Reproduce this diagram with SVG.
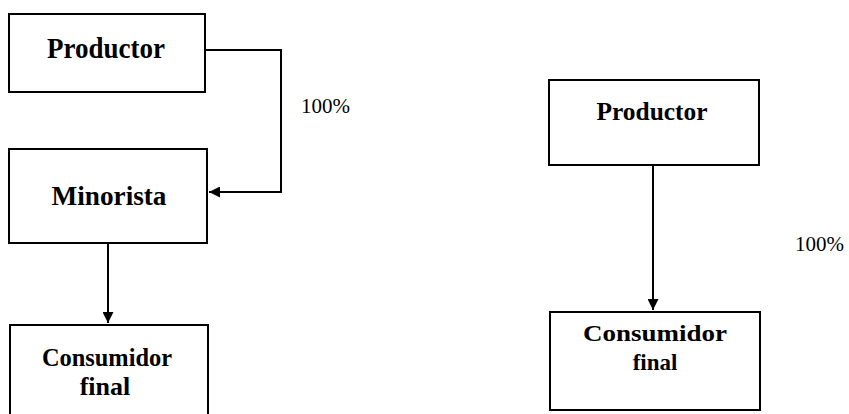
<svg xmlns="http://www.w3.org/2000/svg" width="849" height="414" viewBox="0 0 849 414">
<style>
.box{fill:#fff;stroke:#000;stroke-width:2}
.t{font-family:'Liberation Serif','Times New Roman',serif;font-weight:bold;fill:#000;text-anchor:middle}
.p{font-family:'Liberation Serif','Times New Roman',serif;fill:#000;font-size:21px}
.c{fill:none;stroke:#000;stroke-width:2}
</style>
<defs>
<marker id="ah" viewBox="0 0 10 10" refX="10" refY="5" markerWidth="5.5" markerHeight="5.5" orient="auto" markerUnits="strokeWidth">
<path d="M0,0 L10,5 L0,10 Z" fill="#000"/>
</marker>
</defs>
<rect width="849" height="414" fill="#fff"/>
<g id="connectors">
<path class="c" d="M205,50 H281 V192 H209" marker-end="url(#ah)"/>
<path class="c" d="M108,243 V323" marker-end="url(#ah)"/>
<path class="c" d="M653,165 V310" marker-end="url(#ah)"/>
</g>
<g id="productor1">
<rect class="box" x="9" y="14" width="196" height="78"/>
<text class="t" x="106" y="58" font-size="29" textLength="118" lengthAdjust="spacingAndGlyphs">Productor</text>
</g>
<g id="minorista">
<rect class="box" x="9" y="149" width="198" height="94"/>
<text class="t" x="109" y="205" font-size="28" textLength="115" lengthAdjust="spacingAndGlyphs">Minorista</text>
</g>
<g id="consumidor1">
<rect class="box" x="10" y="325" width="198" height="100"/>
<text class="t" x="107" y="366" font-size="26" textLength="130" lengthAdjust="spacingAndGlyphs">Consumidor</text>
<text class="t" x="105" y="395" font-size="26">final</text>
</g>
<g id="productor2">
<rect class="box" x="549" y="80" width="210" height="85"/>
<text class="t" x="652" y="120" font-size="25" textLength="111" lengthAdjust="spacingAndGlyphs">Productor</text>
</g>
<g id="consumidor2">
<rect class="box" x="550" y="312" width="210" height="98"/>
<text class="t" x="655" y="341" font-size="23" textLength="144" lengthAdjust="spacingAndGlyphs">Consumidor</text>
<text class="t" x="655" y="370" font-size="23">final</text>
</g>
<text class="p" x="301" y="113">100%</text>
<text class="p" x="795" y="251">100%</text>
</svg>
